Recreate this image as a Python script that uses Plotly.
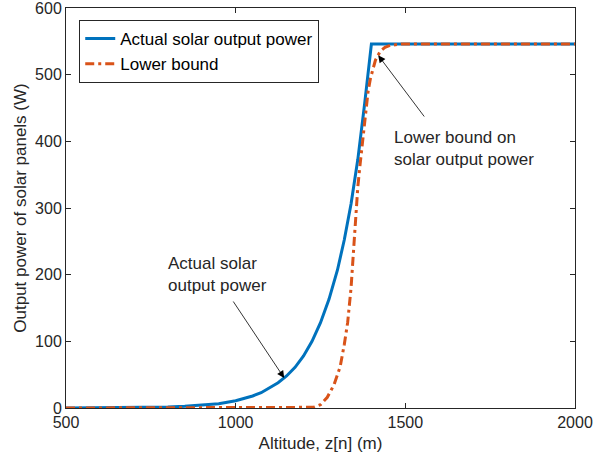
import plotly.graph_objects as go

# ── Data ──────────────────────────────────────────────────────────────────────
alt_actual = [500, 600, 700, 800, 850, 900, 950, 1000, 1025, 1050, 1075, 1100,
              1125, 1150, 1175, 1200, 1225, 1250, 1275, 1300, 1320, 1340,
              1360, 1380, 1400, 2000]
pwr_actual = [0.1, 0.2, 0.6, 1.5, 2.5, 4, 6.5, 11, 14, 18, 23, 30,
              38, 48, 61, 78, 100, 128, 163, 207, 252, 306,
              373, 456, 546, 546]

alt_lower = [500, 1000, 1200, 1230, 1250, 1270, 1290, 1308, 1320, 1330, 1340,
             1345, 1350, 1355, 1360, 1367, 1375, 1382, 1390, 1397, 1405, 1412,
             1426, 1440, 1456, 1490, 2000]
pwr_lower = [0, 0, 0, 1, 5, 16, 35, 62, 95, 128, 180,
             215, 265, 300, 332, 367, 408, 440, 474, 494, 511, 522,
             535, 541, 544, 546, 546]

BLUE = "#0072BD"
ORANGE = "#D95319"
AX = "#262626"
FONT = "Liberation Sans, Arial, sans-serif"

fig = go.Figure()

fig.add_trace(go.Scatter(
    x=alt_actual, y=pwr_actual, name="Actual solar output power",
    mode="lines", line=dict(color=BLUE, width=3),
))
fig.add_trace(go.Scatter(
    x=alt_lower, y=pwr_lower, name="Lower bound",
    mode="lines", line=dict(color=ORANGE, width=3, dash="9px,4px,3px,4px"),
))

# ── Annotations ───────────────────────────────────────────────────────────────
txt = dict(showarrow=False, xanchor="left", yanchor="middle", align="left",
           font=dict(family=FONT, size=17, color=AX))
fig.add_annotation(x=795, y=200, text="Actual solar<br>output power", **txt)
fig.add_annotation(x=1460, y=390, text="Lower bound on<br>solar output power", **txt)

arr = dict(text="", showarrow=True, arrowhead=2, arrowsize=1.8, arrowwidth=0.8,
           arrowcolor="black", axref="x", ayref="y")
fig.add_annotation(x=1143, y=45, ax=990, ay=162, **arr)
fig.add_annotation(x=1420, y=529, ax=1559, ay=435, **arr)

# ── Layout ────────────────────────────────────────────────────────────────────
axis_common = dict(
    showgrid=False, zeroline=False, showline=True, linecolor=AX, linewidth=1,
    mirror="ticks", ticks="inside", ticklen=5, tickcolor=AX, automargin=False,
    ticklabeloverflow="allow",
    tickfont=dict(family=FONT, size=16, color=AX),
)
fig.update_layout(
    template="none",
    width=594, height=461,
    margin=dict(l=66, r=19, t=8, b=53),
    paper_bgcolor="white", plot_bgcolor="white",
    font=dict(family=FONT, size=16, color=AX),
    showlegend=True,
    legend=dict(
        x=0.026, y=0.97, xanchor="left", yanchor="top",
        bgcolor="white", bordercolor=AX, borderwidth=1,
        font=dict(family=FONT, size=17, color="black"),
        tracegroupgap=0, itemwidth=30,
    ),
    xaxis=dict(range=[500, 2000], tickvals=[500, 1000, 1500, 2000],
               title=dict(text="Altitude, z[n] (m)", standoff=6,
                          font=dict(family=FONT, size=17, color=AX)),
               **axis_common),
    yaxis=dict(range=[0, 600], tickvals=[0, 100, 200, 300, 400, 500, 600],
               title=dict(text="Output power of solar panels (W)", standoff=4,
                          font=dict(family=FONT, size=17, color=AX)),
               **axis_common),
)

# the page's default body margin would push the figure off the window
fig.write_html("out.html", config={"displayModeBar": False},
               post_script="document.body.style.margin='0';")
